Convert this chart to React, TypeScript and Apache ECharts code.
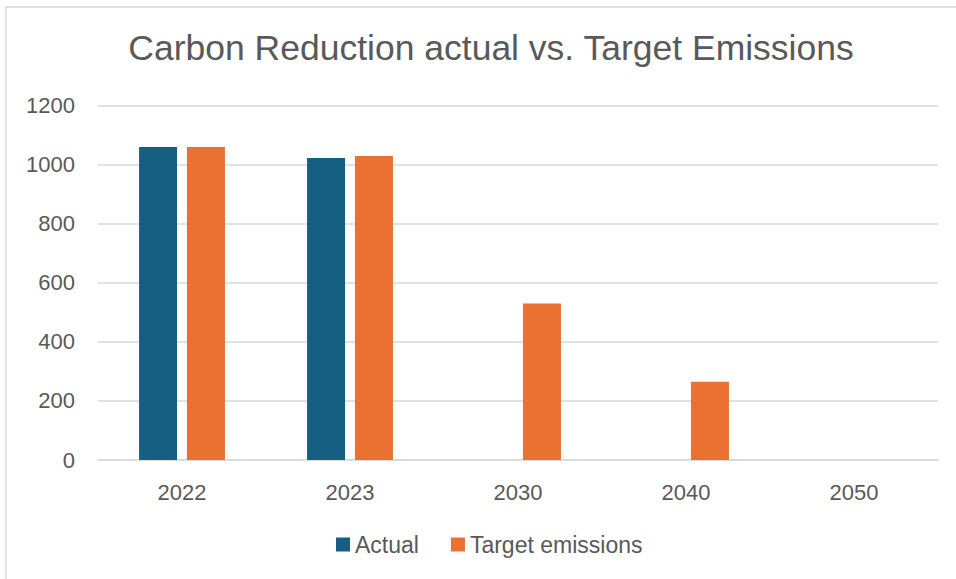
import React, { useEffect, useRef } from "react";
import * as echarts from "echarts";

const categories = ["2022", "2023", "2030", "2040", "2050"];
const actualValues: (number | null)[] = [1060, 1023, null, null, null];
const targetValues: number[] = [1060, 1030, 530, 265, 0];
const seriesNames = ["Actual", "Target emissions"];
const titleText = "Carbon Reduction actual vs. Target Emissions";

const FONT = "'Liberation Sans', Arial, sans-serif";
const TEXT = "#595959";

export default function App() {
  const ref = useRef<HTMLDivElement>(null);
  useEffect(() => {
    if (!ref.current) return;
    const chart = echarts.init(ref.current, undefined, { renderer: "svg" });
    chart.setOption({
      animation: false,
      backgroundColor: "#ffffff",
      textStyle: { fontFamily: FONT, color: TEXT },
      title: {
        text: titleText,
        left: 486,
        textAlign: "center",
        top: 25,
        textStyle: { fontFamily: FONT, fontSize: 35.5, fontWeight: "normal", color: TEXT },
      },
      graphic: [
        {
          type: "rect",
          shape: { x: 6, y: 7, width: 970, height: 600 },
          style: { fill: "none", stroke: "#d9d9d9", lineWidth: 1.5 },
          silent: true,
        },
      ],
      legend: {
        data: seriesNames,
        left: 336,
        top: 533,
        padding: 0,
        itemWidth: 14,
        itemHeight: 14,
        itemGap: 32,
        icon: "rect",
        textStyle: { fontFamily: FONT, fontSize: 23, color: TEXT },
      },
      grid: { left: 98, right: 18, top: 105.7, bottom: 119, containLabel: false },
      xAxis: {
        type: "category",
        data: categories,
        axisLine: { show: true, lineStyle: { color: "#d9d9d9", width: 1.5 } },
        axisTick: { show: false },
        axisLabel: { fontFamily: FONT, fontSize: 22, color: TEXT, margin: 21 },
      },
      yAxis: {
        type: "value",
        min: 0,
        max: 1200,
        interval: 200,
        axisLine: { show: false },
        axisTick: { show: false },
        splitLine: { lineStyle: { color: "#d9d9d9", width: 1.5 } },
        axisLabel: {
          fontFamily: FONT,
          fontSize: 22,
          color: TEXT,
          margin: 23,
          formatter: (v: number) => String(v),
        },
      },
      series: [
        {
          name: seriesNames[0],
          type: "bar",
          data: actualValues,
          barWidth: 38,
          barGap: "26%",
          itemStyle: { color: "#156082" },
        },
        {
          name: seriesNames[1],
          type: "bar",
          data: targetValues,
          barWidth: 38,
          barGap: "26%",
          itemStyle: { color: "#E97132" },
        },
      ],
    });
    return () => chart.dispose();
  }, []);
  return (
    <div
      ref={ref}
      style={{ position: "fixed", left: 0, top: 0, width: 956, height: 579 }}
    />
  );
}
